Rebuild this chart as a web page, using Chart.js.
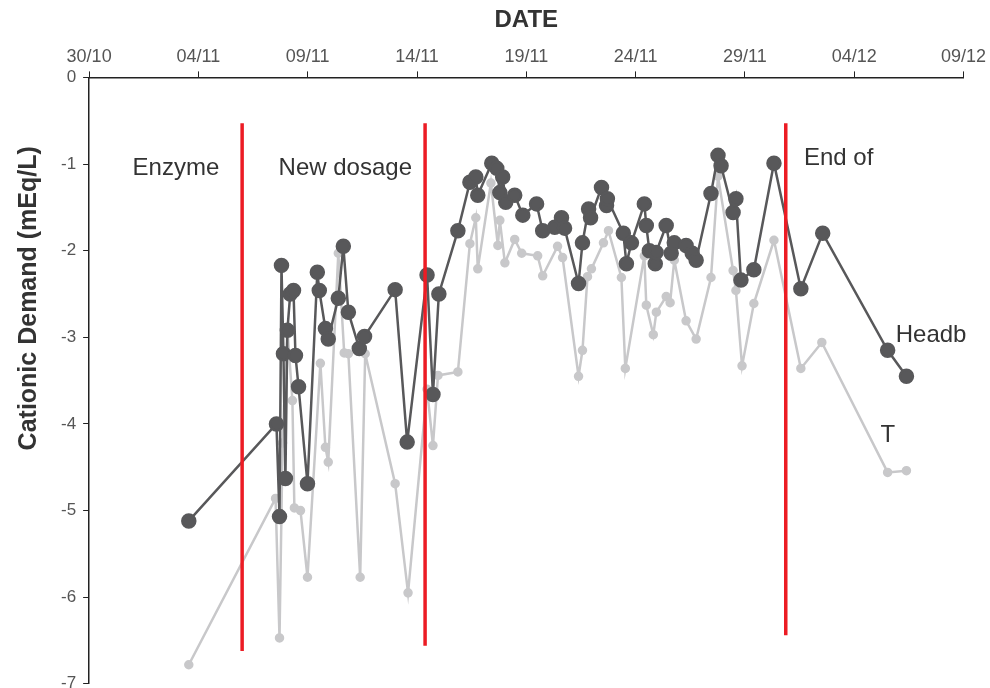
<!DOCTYPE html>
<html>
<head>
<meta charset="utf-8">
<script src="https://cdn.jsdelivr.net/npm/chart.js@4/dist/chart.umd.min.js"></script>
<style>
  body { margin: 0; background: #fff; overflow: hidden; }
  #wrap { width: 990px; height: 701px; }
</style>
</head>
<body>
<div id="wrap"><canvas id="myChart"></canvas></div>
<script>
// days counted from 30/10
var tickLabels = ["30/10", "04/11", "09/11", "14/11", "19/11", "24/11", "29/11", "04/12", "09/12"];

var headDays = [4.56, 8.57, 8.71, 8.80, 8.89, 8.98, 9.07, 9.20, 9.35, 9.44, 9.58, 9.99, 10.44, 10.53, 10.81, 10.94,
  11.40, 11.63, 11.86, 12.36, 12.60, 14.0, 14.55, 15.46, 15.73, 16.0, 16.87, 17.42, 17.69, 17.78, 18.42, 18.65,
  18.79, 18.92, 19.06, 19.47, 19.84, 20.47, 20.75, 21.30, 21.61, 21.75, 22.39, 22.57, 22.85, 22.94, 23.44, 23.67,
  23.71, 24.44, 24.58, 24.81, 25.40, 25.49, 25.63, 25.90, 25.94, 26.40, 26.63, 26.77, 27.31, 27.59, 27.77, 28.45,
  28.77, 28.91, 29.46, 29.59, 29.82, 30.41, 31.33, 32.56, 33.56, 36.53, 37.39];
var headValues = [-5.12, -4.0, -5.07, -2.17, -3.19, -4.63, -2.92, -2.5, -2.46, -3.21, -3.57, -4.69, -2.25, -2.46, -2.90, -3.02,
  -2.55, -1.95, -2.71, -3.13, -2.99, -2.45, -4.21, -2.28, -3.66, -2.5, -1.77, -1.21, -1.15, -1.36, -0.99, -1.05,
  -1.33, -1.15, -1.44, -1.36, -1.59, -1.46, -1.77, -1.73, -1.62, -1.74, -2.38, -1.91, -1.52, -1.62, -1.27, -1.48,
  -1.40, -1.80, -2.15, -1.91, -1.46, -1.71, -2.0, -2.15, -2.02, -1.71, -2.03, -1.91, -1.94, -2.03, -2.11, -1.34,
  -0.90, -1.02, -1.56, -1.40, -2.34, -2.22, -0.99, -2.44, -1.80, -3.15, -3.45];

var trayDays = [4.56, 8.53, 8.71, 8.85, 9.07, 9.30, 9.39, 9.67, 9.99, 10.58, 10.81, 10.94, 11.40, 11.67, 11.86, 12.40,
  12.63, 14.0, 14.59, 15.46, 15.73, 15.96, 16.87, 17.42, 17.69, 17.78, 18.38, 18.70, 18.79, 19.02, 19.47, 19.79,
  20.52, 20.75, 21.43, 21.66, 22.39, 22.57, 22.80, 22.98, 23.53, 23.76, 24.35, 24.53, 25.40, 25.49, 25.81, 25.95,
  26.40, 26.58, 26.77, 27.31, 27.77, 28.45, 28.77, 29.46, 29.59, 29.87, 30.41, 31.33, 32.56, 33.52, 36.53, 37.39];
var trayValues = [-6.78, -4.86, -6.47, -4.22, -2.9, -3.73, -4.97, -5.0, -5.77, -3.30, -4.27, -4.44, -2.03, -3.18, -3.19, -5.77,
  -3.19, -4.69, -5.95, -3.6, -4.25, -3.44, -3.40, -1.92, -1.62, -2.21, -1.22, -1.94, -1.65, -2.14, -1.87, -2.03,
  -2.06, -2.29, -1.95, -2.08, -3.45, -3.15, -2.30, -2.21, -1.91, -1.77, -2.31, -3.36, -2.06, -2.63, -2.97, -2.71,
  -2.53, -2.60, -2.11, -2.81, -3.02, -2.31, -1.14, -2.23, -2.46, -3.33, -2.61, -1.88, -3.36, -3.06, -4.56, -4.54];

// red event markers
var markerDays = [7.0, 15.37, 31.87];
var markerTop = -0.53;
var markerBottoms = [-6.62, -6.56, -6.44];

function pairs(xs, ys) {
  return xs.map(function(x, i) { return { x: x, y: ys[i] }; });
}

var datasets = [];
markerDays.forEach(function(d, i) {
  datasets.push({
    data: [{ x: d, y: markerTop }, { x: d, y: markerBottoms[i] }],
    borderColor: "#ec1c24",
    borderWidth: 3.5,
    pointRadius: 0,
    order: 0
  });
});
datasets.push({
  label: "T",
  data: pairs(trayDays, trayValues),
  borderColor: "#c8c8ca",
  backgroundColor: "#c8c8ca",
  borderWidth: 2.5,
  pointRadius: 3.5,
  order: 2
});
datasets.push({
  label: "Headbox",
  data: pairs(headDays, headValues),
  borderColor: "#58585a",
  backgroundColor: "#58585a",
  borderWidth: 2.5,
  pointRadius: 6.5,
  order: 1
});

var notes = [
  { text: "Enzyme", x: 3.97, y: -1.05, align: "center" },
  { text: "New dosage", x: 11.72, y: -1.05, align: "center" },
  { text: "End of", x: 32.7, y: -0.94, align: "left" },
  { text: "Headb", x: 36.9, y: -2.98, align: "left" },
  { text: "T", x: 36.2, y: -4.13, align: "left" }
];

var fam = "'Liberation Sans', Arial, sans-serif";

var notePlugin = {
  id: "notes",
  afterDatasetsDraw: function(chart) {
    var ctx = chart.ctx;
    var xs = chart.scales.x, ys = chart.scales.y;
    ctx.save();
    ctx.font = "24px " + fam;
    ctx.fillStyle = "#333";
    ctx.textBaseline = "middle";
    notes.forEach(function(n) {
      ctx.textAlign = n.align;
      ctx.fillText(n.text, xs.getPixelForValue(n.x), ys.getPixelForValue(n.y));
    });
    // y-axis title, sits higher than centre in the original
    ctx.translate(29, ys.getPixelForValue(-2.55));
    ctx.rotate(-Math.PI / 2);
    ctx.textAlign = "center";
    ctx.font = "bold 25px " + fam;
    ctx.fillText("Cationic Demand (mEq/L)", 0, 0);
    ctx.restore();
  }
};

new Chart("myChart", {
  type: "line",
  data: { datasets: datasets },
  options: {
    responsive: true,
    maintainAspectRatio: false,
    animation: false,
    layout: { padding: { left: 54, right: 1, top: 6, bottom: 0 } },
    plugins: { legend: { display: false }, tooltip: { enabled: false } },
    scales: {
      x: {
        type: "linear",
        position: "top",
        min: 0,
        max: 40,
        grid: { drawOnChartArea: false, drawTicks: true, tickLength: 6, color: "#222" },
        border: { color: "#222", width: 1.5 },
        ticks: {
          stepSize: 5,
          color: "#555",
          font: { family: fam, size: 18 },
          padding: 4,
          maxRotation: 0,
          callback: function(v) { return tickLabels[v / 5]; }
        },
        title: {
          display: true,
          text: "DATE",
          color: "#333",
          font: { family: fam, size: 24, weight: "bold" },
          padding: { top: 0, bottom: 7 }
        }
      },
      y: {
        min: -7,
        max: 0,
        grid: { drawOnChartArea: false, drawTicks: true, tickLength: 6, color: "#222" },
        border: { color: "#222", width: 1.5 },
        ticks: {
          stepSize: 1,
          color: "#555",
          font: { family: fam, size: 17 },
          padding: 7
        },
        title: { display: false }
      }
    }
  },
  plugins: [notePlugin]
});
</script>
</body>
</html>
